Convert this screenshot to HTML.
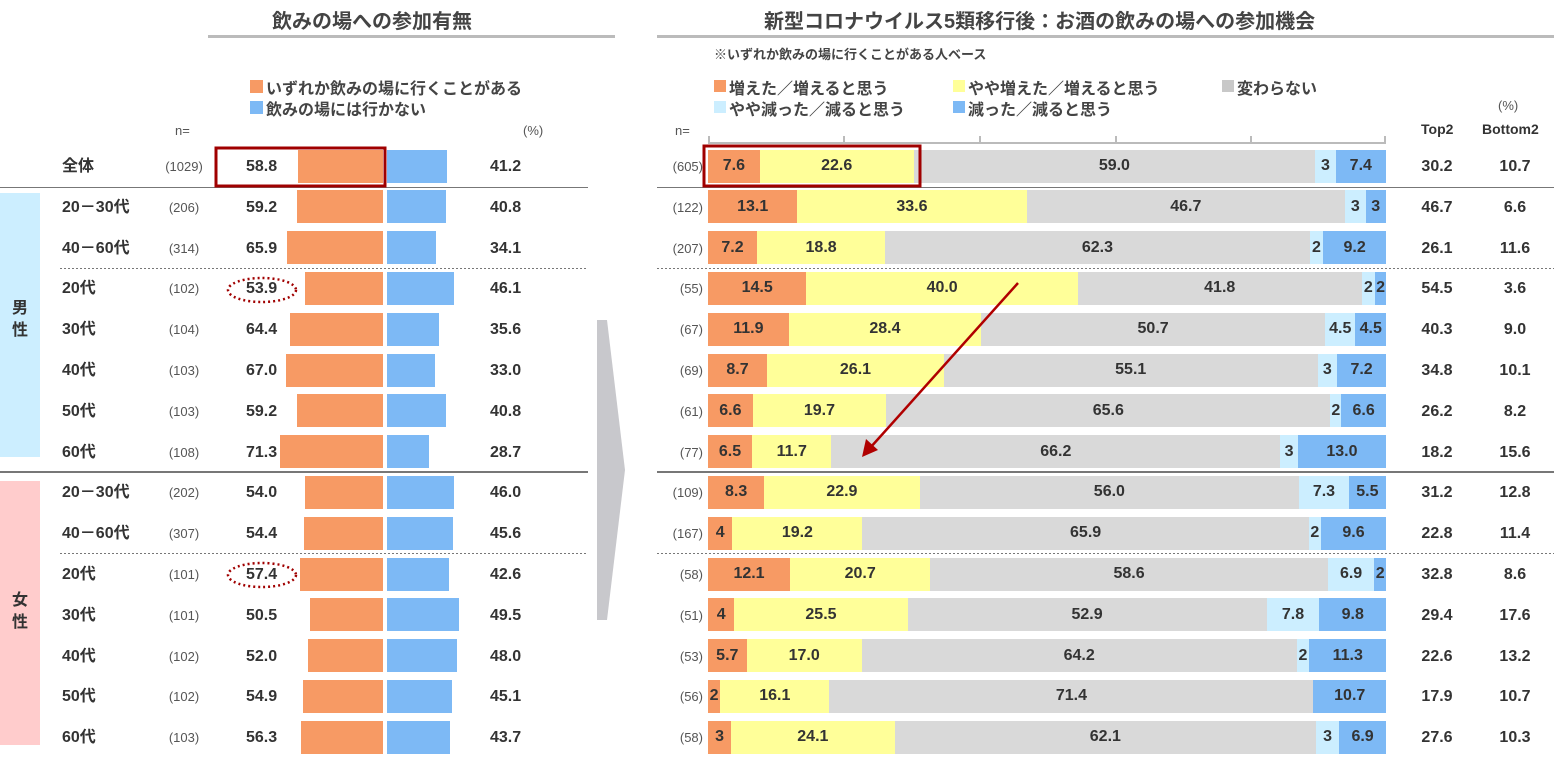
<!DOCTYPE html>
<html><head><meta charset="utf-8"><style>
body{margin:0;width:1554px;height:760px;background:#fff;position:relative;overflow:hidden;font-family:"Liberation Sans","Noto Sans CJK JP",sans-serif;color:#333}
.a{position:absolute;white-space:nowrap}
.b{font-weight:bold}
.t{font-size:16px;font-weight:bold;color:#333;line-height:20px}
.n{font-size:13px;color:#555;line-height:20px}
.seg{position:absolute;height:33px;display:flex;align-items:center;justify-content:center;font-size:16px;font-weight:bold;color:#333;overflow:visible}
</style></head><body>
<div class="a b" style="left:272px;top:5px;font-size:20px;color:#444">飲みの場への参加有無</div>
<div class="a" style="left:208px;top:35px;width:407px;height:3px;background:#bbb"></div>
<div class="a b" style="left:764px;top:5px;font-size:20px;color:#444">新型コロナウイルス5類移行後：お酒の飲みの場への参加機会</div>
<div class="a" style="left:657px;top:35px;width:897px;height:3px;background:#bbb"></div>

<div class="a" style="left:250px;top:80px;width:13px;height:13px;background:#F79A64"></div>
<div class="a b" style="left:266px;top:75px;font-size:16px;color:#444">いずれか飲みの場に行くことがある</div>
<div class="a" style="left:250px;top:101px;width:13px;height:13px;background:#7DB9F5"></div>
<div class="a b" style="left:266px;top:96px;font-size:16px;color:#444">飲みの場には行かない</div>
<div class="a n" style="left:175px;top:121px">n=</div>
<div class="a n" style="left:523px;top:121px">(%)</div>

<div class="a b" style="left:714px;top:44px;font-size:13px;color:#444">※いずれか飲みの場に行くことがある人ベース</div>
<div class="a" style="left:714px;top:80px;width:12px;height:12px;background:#F79A64"></div>
<div class="a b" style="left:729px;top:75px;font-size:16px;color:#444">増えた／増えると思う</div>
<div class="a" style="left:953px;top:80px;width:12px;height:12px;background:#FFFF99"></div>
<div class="a b" style="left:968px;top:75px;font-size:16px;color:#444">やや増えた／増えると思う</div>
<div class="a" style="left:1222px;top:80px;width:12px;height:12px;background:#C8C8C8"></div>
<div class="a b" style="left:1237px;top:75px;font-size:16px;color:#444">変わらない</div>
<div class="a" style="left:714px;top:101px;width:12px;height:12px;background:#CCEEFF"></div>
<div class="a b" style="left:729px;top:96px;font-size:16px;color:#444">やや減った／減ると思う</div>
<div class="a" style="left:953px;top:101px;width:12px;height:12px;background:#7DB9F5"></div>
<div class="a b" style="left:968px;top:96px;font-size:16px;color:#444">減った／減ると思う</div>
<div class="a n" style="left:1498px;top:96px">(%)</div>
<div class="a n" style="left:675px;top:121px">n=</div>
<div class="a b" style="left:1421px;top:121px;font-size:14px;color:#333">Top2</div>
<div class="a b" style="left:1482px;top:121px;font-size:14px;color:#333">Bottom2</div>

<div class="a" style="left:0;top:193px;width:40px;height:264px;background:#CCEEFF"></div>
<div class="a b" style="left:12px;top:298px;font-size:16px;line-height:22px;color:#333">男<br>性</div>
<div class="a" style="left:0;top:481px;width:40px;height:264px;background:#FFCCCC"></div>
<div class="a b" style="left:12px;top:590px;font-size:16px;line-height:22px;color:#333">女<br>性</div>

<svg class="a" style="left:0;top:0" width="1554" height="760">
<line x1="0" y1="187.5" x2="588" y2="187.5" stroke="#777" stroke-width="1"/>
<line x1="657" y1="187.5" x2="1554" y2="187.5" stroke="#777" stroke-width="1"/>
<line x1="60" y1="268.5" x2="588" y2="268.5" stroke="#777" stroke-dasharray="2,2"/>
<line x1="657" y1="268.5" x2="1554" y2="268.5" stroke="#777" stroke-dasharray="2,2"/>
<line x1="0" y1="472" x2="588" y2="472" stroke="#777" stroke-width="2"/>
<line x1="657" y1="472" x2="1554" y2="472" stroke="#777" stroke-width="2"/>
<line x1="60" y1="553.5" x2="588" y2="553.5" stroke="#777" stroke-dasharray="2,2"/>
<line x1="657" y1="553.5" x2="1554" y2="553.5" stroke="#777" stroke-dasharray="2,2"/>
<line x1="708" y1="143" x2="1386" y2="143" stroke="#bbb" stroke-width="2"/>
<g stroke="#bbb" stroke-width="2"><line x1="709" y1="136" x2="709" y2="143"/><line x1="844" y1="136" x2="844" y2="143"/><line x1="980" y1="136" x2="980" y2="143"/><line x1="1116" y1="136" x2="1116" y2="143"/><line x1="1251" y1="136" x2="1251" y2="143"/><line x1="1385" y1="136" x2="1385" y2="143"/></g>
<polygon points="597,320 607,320 625,470 607,620 597,620" fill="#C8C8CC"/>
</svg>
<div id="c"></div>
<svg class="a" style="left:0;top:0;z-index:5" width="1554" height="760">
<rect x="216" y="148" width="169" height="38" fill="none" stroke="#A00000" stroke-width="3"/>
<rect x="704" y="146" width="216" height="40" fill="none" stroke="#A00000" stroke-width="3"/>
<ellipse cx="262" cy="290" rx="34" ry="12" fill="none" stroke="#A00000" stroke-width="2.5" stroke-dasharray="2,3"/>
<ellipse cx="262" cy="575" rx="34" ry="12" fill="none" stroke="#A00000" stroke-width="2.5" stroke-dasharray="2,3"/>
<line x1="1018" y1="283" x2="870" y2="448" stroke="#B00000" stroke-width="2.5"/>
<polygon points="862,457 866,439 878,450" fill="#B00000"/>
</svg>
<script>
var rows=[
["全体","(1029)",58.8,41.2,"(605)",[7.6,22.6,59.0,3,7.4],["7.6","22.6","59.0","3","7.4"],"30.2","10.7"],
["20－30代","(206)",59.2,40.8,"(122)",[13.1,33.6,46.7,3,3],["13.1","33.6","46.7","3","3"],"46.7","6.6"],
["40－60代","(314)",65.9,34.1,"(207)",[7.2,18.8,62.3,2,9.2],["7.2","18.8","62.3","2","9.2"],"26.1","11.6"],
["20代","(102)",53.9,46.1,"(55)",[14.5,40.0,41.8,2,1.6],["14.5","40.0","41.8","2","2"],"54.5","3.6"],
["30代","(104)",64.4,35.6,"(67)",[11.9,28.4,50.7,4.5,4.5],["11.9","28.4","50.7","4.5","4.5"],"40.3","9.0"],
["40代","(103)",67.0,33.0,"(69)",[8.7,26.1,55.1,2.9,7.2],["8.7","26.1","55.1","3","7.2"],"34.8","10.1"],
["50代","(103)",59.2,40.8,"(61)",[6.6,19.7,65.6,1.6,6.6],["6.6","19.7","65.6","2","6.6"],"26.2","8.2"],
["60代","(108)",71.3,28.7,"(77)",[6.5,11.7,66.2,2.6,13.0],["6.5","11.7","66.2","3","13.0"],"18.2","15.6"],
["20－30代","(202)",54.0,46.0,"(109)",[8.3,22.9,56.0,7.3,5.5],["8.3","22.9","56.0","7.3","5.5"],"31.2","12.8"],
["40－60代","(307)",54.4,45.6,"(167)",[3.6,19.2,65.9,1.8,9.6],["4","19.2","65.9","2","9.6"],"22.8","11.4"],
["20代","(101)",57.4,42.6,"(58)",[12.1,20.7,58.6,6.9,1.7],["12.1","20.7","58.6","6.9","2"],"32.8","8.6"],
["30代","(101)",50.5,49.5,"(51)",[3.9,25.5,52.9,7.8,9.8],["4","25.5","52.9","7.8","9.8"],"29.4","17.6"],
["40代","(102)",52.0,48.0,"(53)",[5.7,17.0,64.2,1.9,11.3],["5.7","17.0","64.2","2","11.3"],"22.6","13.2"],
["50代","(102)",54.9,45.1,"(56)",[1.8,16.1,71.4,0,10.7],["2","16.1","71.4","","10.7"],"17.9","10.7"],
["60代","(103)",56.3,43.7,"(58)",[3.4,24.1,62.1,3.4,6.9],["3","24.1","62.1","3","6.9"],"27.6","10.3"]];
var cols=["#F79A64","#FFFF99","#D9D9D9","#CCEEFF","#7DB9F5"];
var h="";
rows.forEach(function(r,i){
 var cy=166+i*40.8, top=cy-16.5, ty=cy-9;
 h+='<div class="a t" style="left:62px;top:'+ty+'px">'+r[0]+'</div>';
 h+='<div class="a n" style="left:160px;width:48px;text-align:center;top:'+ty+'px">'+r[1]+'</div>';
 h+='<div class="a t" style="left:246px;top:'+ty+'px">'+r[2].toFixed(1)+'</div>';
 var ow=r[2]*1.45;
 h+='<div class="a" style="left:'+(383-ow)+'px;top:'+top+'px;width:'+ow+'px;height:33px;background:#F79A64"></div>';
 h+='<div class="a" style="left:387px;top:'+top+'px;width:'+(r[3]*1.45)+'px;height:33px;background:#7DB9F5"></div>';
 h+='<div class="a t" style="left:490px;top:'+ty+'px">'+r[3].toFixed(1)+'</div>';
 h+='<div class="a n" style="left:655px;width:48px;text-align:right;top:'+ty+'px">'+r[4]+'</div>';
 var s=r[5],tot=s.reduce(function(a,b){return a+b},0),x=708;
 for(var k=0;k<5;k++){var w=s[k]/tot*678; if(w<=0)continue;
  h+='<div class="seg" style="left:'+x+'px;top:'+top+'px;width:'+w+'px;background:'+cols[k]+'">'+r[6][k]+'</div>'; x+=w;}
 h+='<div class="a t" style="left:1407px;width:60px;text-align:center;top:'+ty+'px">'+r[7]+'</div>';
 h+='<div class="a t" style="left:1485px;width:60px;text-align:center;top:'+ty+'px">'+r[8]+'</div>';
});
document.getElementById("c").innerHTML=h;
</script>
</body></html>
